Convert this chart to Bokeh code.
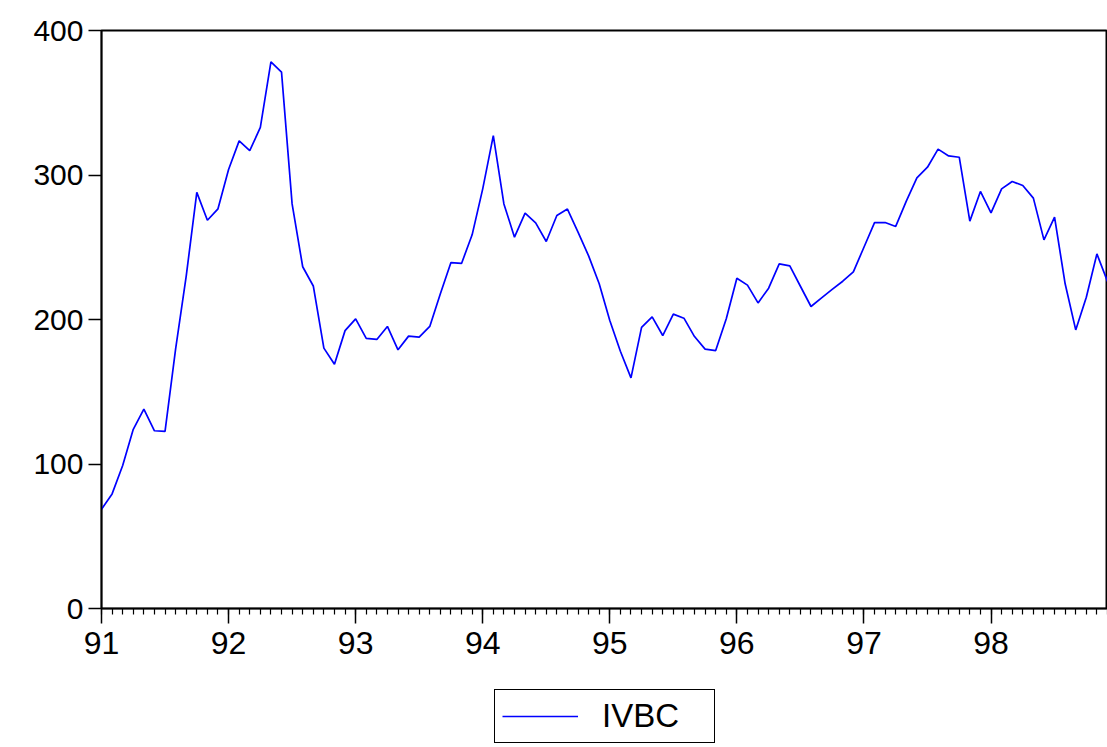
from bokeh.plotting import figure
from bokeh.layouts import column
from bokeh.models import FixedTicker, Legend, LegendItem, Range1d
from bokeh.embed import file_html
from bokeh.resources import INLINE

# Monthly IVBC, Jan 1991 .. Dec 1998
ivbc = [
    68.7, 79.3, 99.0, 124.0, 138.0, 123.0, 122.6, 179.7, 230.0, 288.0, 268.7, 276.6,
    303.8, 323.6, 316.8, 332.9, 378.3, 371.2, 280.0, 236.5, 223.2, 180.2, 169.0, 192.3,
    200.4, 187.0, 186.2, 195.2, 179.0, 188.5, 187.8, 195.2, 217.8, 239.4, 238.8, 258.6,
    290.4, 327.3, 280.0, 257.0, 273.6, 266.9, 254.0, 272.0, 276.4, 260.5, 244.0, 224.7,
    199.3, 178.0, 159.6, 194.5, 201.8, 188.9, 203.7, 200.9, 188.2, 179.5, 178.5, 200.5,
    228.6, 223.8, 211.5, 221.7, 238.5, 237.1, 223.0, 209.0, 215.0, 220.8, 226.5, 233.0,
    250.0, 267.1, 267.1, 264.4, 281.9, 298.0, 305.4, 317.9, 313.2, 312.3, 268.1, 288.6,
    273.8, 290.4, 295.5, 292.7, 284.0, 255.1, 270.8, 224.7, 192.8, 215.4, 245.4, 226.3,
]
months = list(range(len(ivbc)))
year_labels = ["91", "92", "93", "94", "95", "96", "97", "98"]
y_ticks = [0, 100, 200, 300, 400]
series_name = "IVBC"

FONT = "Liberation Sans"
LINE_COLOR = "#0000FF"

p = figure(frame_width=1006, frame_height=578, output_backend="svg", toolbar_location=None,
           x_range=Range1d(0, 95), y_range=Range1d(0, 400),
           min_border_left=101, min_border_top=30, min_border_right=0,
           min_border_bottom=72)
p.background_fill_color = "white"
p.border_fill_color = "white"
p.outline_line_color = "black"
p.outline_line_width = 2
p.xgrid.visible = False
p.ygrid.visible = False

p.line(months, ivbc, line_color=LINE_COLOR, line_width=1.7)

year_ticks = [12 * i for i in range(len(year_labels))]
xa = p.xaxis[0]
xa.ticker = FixedTicker(ticks=year_ticks, minor_ticks=months)
xa.major_label_overrides = {t: lab for t, lab in zip(year_ticks, year_labels)}
xa.major_tick_out = 15
xa.major_tick_in = 0
xa.minor_tick_out = 6
xa.minor_tick_in = 0
xa.major_label_standoff = 8
xa.major_label_text_font = FONT
xa.major_label_text_font_size = "32px"
xa.major_label_text_color = "black"
xa.axis_line_width = 1.5
xa.major_tick_line_width = 1.5
xa.minor_tick_line_width = 1.2

ya = p.yaxis[0]
ya.ticker = FixedTicker(ticks=y_ticks, minor_ticks=[])
ya.major_tick_out = 13
ya.major_tick_in = 0
ya.minor_tick_out = 0
ya.major_label_standoff = 5
ya.major_label_text_font = FONT
ya.major_label_text_font_size = "30px"
ya.major_label_text_color = "black"
ya.axis_line_width = 1.5
ya.major_tick_line_width = 1.5

# Legend strip below the chart (its series line lies outside its own view)
lf = figure(width=1107, height=67, output_backend="svg", toolbar_location=None,
            x_range=Range1d(0, 95), y_range=Range1d(1000, 2000),
            min_border_left=0, min_border_right=0, min_border_top=0, min_border_bottom=0)
lf.axis.visible = False
lf.xgrid.visible = False
lf.ygrid.visible = False
lf.outline_line_color = None
lf.background_fill_color = "white"
lf.border_fill_color = "white"
lr = lf.line(months, ivbc, line_color=LINE_COLOR, line_width=1.7)

legend = Legend(items=[LegendItem(label=series_name, renderers=[lr])],
                location=(393, 4), orientation="horizontal",
                label_text_font=FONT, label_text_font_size="33px",
                label_text_color="black",
                glyph_width=76, label_standoff=24, label_width=105,
                padding=7, margin=0, border_line_color="black",
                border_line_alpha=1.0, border_line_width=1.5,
                background_fill_alpha=1.0)
lf.add_layout(legend, "center")

layout = column(p, lf, spacing=0)
open("out.html", "w").write(file_html(layout, INLINE))
